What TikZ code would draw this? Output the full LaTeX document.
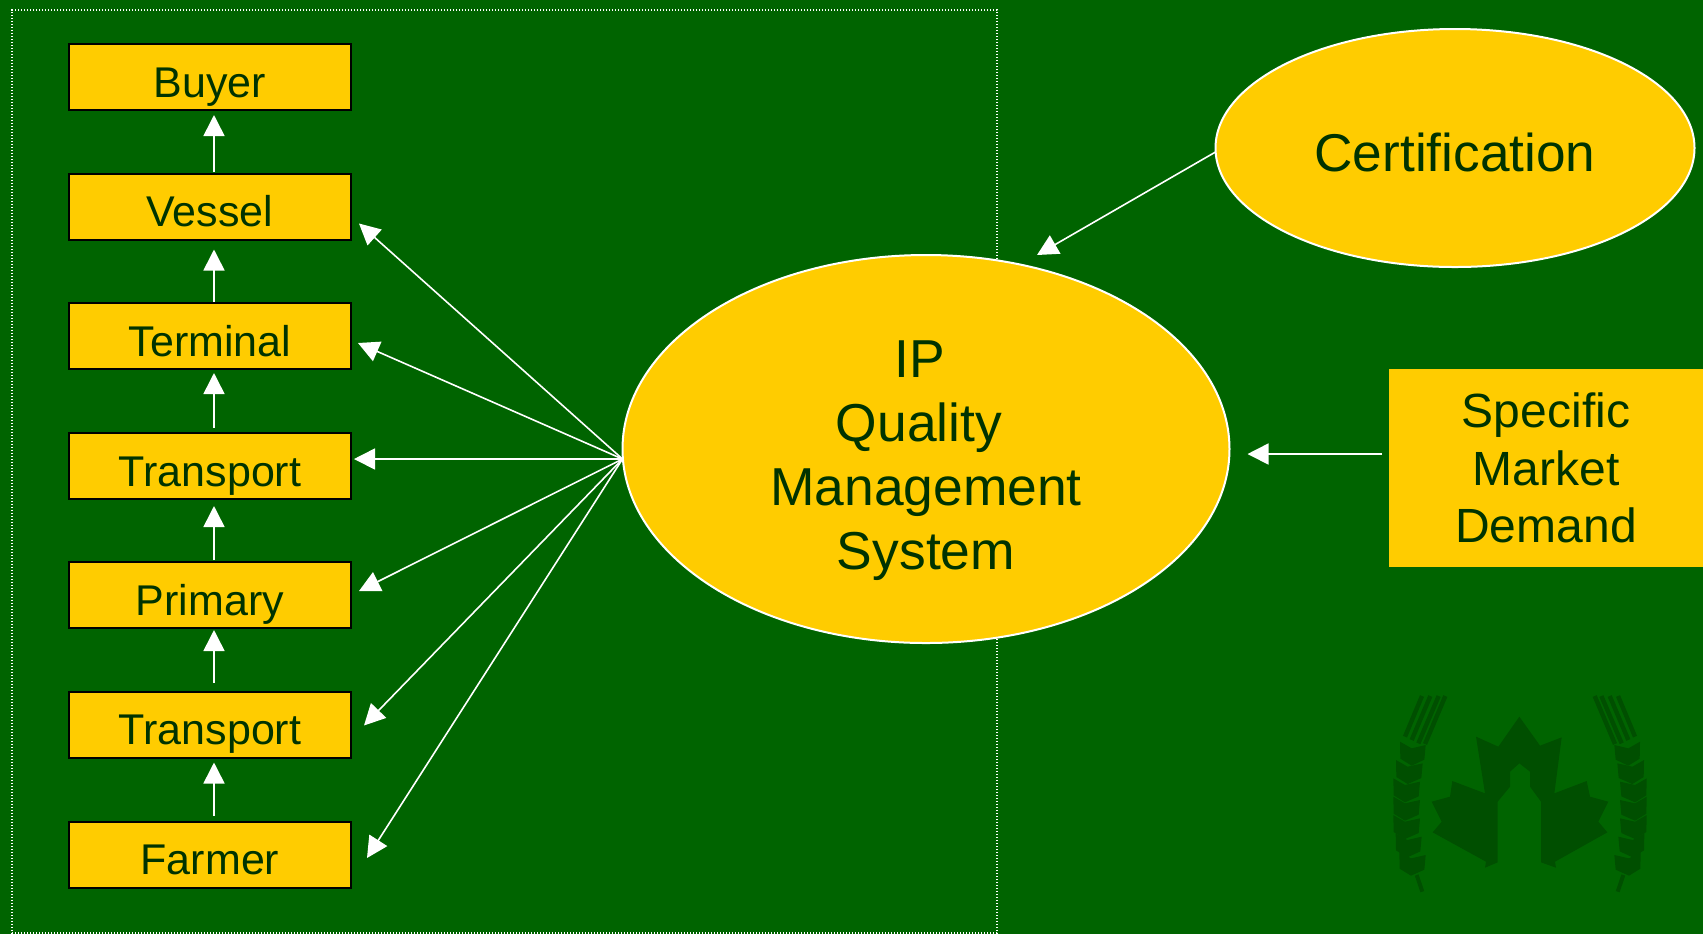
\documentclass[tikz,border=0pt]{standalone}
\usepackage{fontspec}
\setmainfont{Liberation Sans}
\usetikzlibrary{shapes.geometric,arrows.meta}
\definecolor{bggreen}{HTML}{006400}
\definecolor{gold}{HTML}{FFCC00}
\definecolor{ink}{HTML}{003300}
\definecolor{logo}{HTML}{004F00}
\tikzset{
  stagebox/.style={draw=black,line width=1pt,fill=gold,text=ink,minimum width=141pt,minimum height=33pt,inner sep=0pt,outer sep=0pt,font=\fontsize{21.5}{24}\selectfont},
  oval/.style={ellipse,draw=white,line width=1pt,fill=gold,text=ink,inner sep=0pt,outer sep=0pt,align=center},
  arr/.style={draw=white,line width=0.8pt,-{Triangle[width=10.5pt,length=10.5pt]},color=white},
}
\newcommand{\lab}[1]{\smash{\raisebox{-10pt}{#1}}}
\newcommand{\grain}[3]{\fill[logo] (#1,#3) -- (#1+35,#3+20) -- (#2,#3+10) -- (#2-4,#3+54) -- (#1+35,#3+72) -- (#1+1,#3+51) -- cycle;}
\newcommand{\wheat}{%
  \foreach \a/\b/\c in {120/197/185,108/188/240,100/180/295,100/180/350,100/180/405,107/185/460,118/197/515}{\grain{\a}{\b}{\c}}
  \foreach \a/\b/\c/\d in {186/48/135/170,211/48/155/180,236/48/175/190,256/48/195/192}{\draw[logo,line width=2.2pt] (\a,\b) -- (\c,\d);}
  \draw[logo,line width=2pt] (170,585) -- (187,635);
}
\begin{document}
\begin{tikzpicture}[x=0.5pt,y=-0.5pt]
\useasboundingbox (0,0) rectangle (1703,934);
\fill[bggreen] (0,0) rectangle (1703,934);
% logo watermark
\begin{scope}[shift={(1360,680)},x=0.16667pt,y=-0.16667pt]
  \fill[logo] (478,110) -- (540,197) -- (605,172) -- (583,340) -- (680,303) -- (690,350) -- (745,365) -- (715,425) -- (742,457) -- (585,545) -- (588,563) -- (543,547) -- (543,365) -- (510,320) -- (510,275) -- (478,250) -- (450,275) -- (450,320) -- (413,365) -- (413,547) -- (375,563) -- (378,545) -- (218,457) -- (245,425) -- (215,365) -- (270,350) -- (277,303) -- (375,340) -- (348,170) -- (415,200) -- cycle;
  \wheat
  \begin{scope}[shift={(960,0)},xscale=-1]
    \wheat
  \end{scope}
\end{scope}
% dotted frame
\node[draw=white,line width=0.7pt,dash pattern=on 0.7pt off 0.8pt,minimum width=492.5pt,minimum height=461.5pt,inner sep=0pt,outer sep=0pt,anchor=north west] (frame) at (12,10) {};
% stages
\node[stagebox] (buyer) at (210,77) {\lab{Buyer}};
\node[stagebox] (vessel) at (210,206.5) {\lab{Vessel}};
\node[stagebox] (terminal) at (210,336) {\lab{Terminal}};
\node[stagebox] (transportb) at (210,466) {\lab{Transport}};
\node[stagebox] (primary) at (210,595) {\lab{Primary}};
\node[stagebox] (transporta) at (210,724.5) {\lab{Transport}};
\node[stagebox] (farmer) at (210,854.5) {\lab{Farmer}};
% main
\node[oval,minimum width=303.5pt,minimum height=194pt,font=\fontsize{26.7}{32}\selectfont] (main) at (926,449) {\rule{0pt}{30.5pt}IP\kern 6pt\relax\\Quality\kern 7pt\relax\\Management\\System};
\node[oval,minimum width=239.5pt,minimum height=119pt,font=\fontsize{26.6}{32}\selectfont] (cert) at (1455,148) {\rule{0pt}{24pt}Certification};
\node[fill=gold,text=ink,minimum width=157pt,minimum height=99pt,inner sep=0pt,outer sep=0pt,align=center,font=\fontsize{24}{28.8}\selectfont] (demand) at (1546,468) {Specific\\Market\\Demand};
% chain
\foreach \f/\t/\g/\s in {vessel/buyer/2.5/0.7,terminal/vessel/5/0.5,transportb/terminal/2/2.7,primary/transportb/3.5/1,transporta/primary/1/4.5,farmer/transporta/2.5/3}{
  \draw[arr,shorten >=\g pt,shorten <=\s pt] ([xshift=2pt]\f.north) -- ([xshift=2pt]\t.south);
}
% fan
\coordinate (hub) at ([yshift=-5pt]main.west);
\draw[arr] (hub) -- ([xshift=4pt,yshift=-8.5pt]vessel.east);
\draw[arr] (hub) -- ([xshift=3.5pt,yshift=-3.5pt]terminal.east);
\draw[arr] (hub) -- ([xshift=1.5pt,yshift=3.5pt]transportb.east);
\draw[arr] (hub) -- ([xshift=4pt,yshift=2pt]primary.east);
\draw[arr] (hub) -- ([xshift=6.5pt,yshift=-0.5pt]transporta.east);
\draw[arr] (hub) -- ([xshift=8pt,yshift=-1.75pt]farmer.east);
% inputs
\draw[arr] ([yshift=-2pt]cert.west) -- ([xshift=55.5pt,yshift=97pt]main.center);
\draw[arr] ([xshift=-3.5pt,yshift=7pt]demand.west) -- ([xshift=9pt,yshift=-2.5pt]main.east);
\end{tikzpicture}
\end{document}
